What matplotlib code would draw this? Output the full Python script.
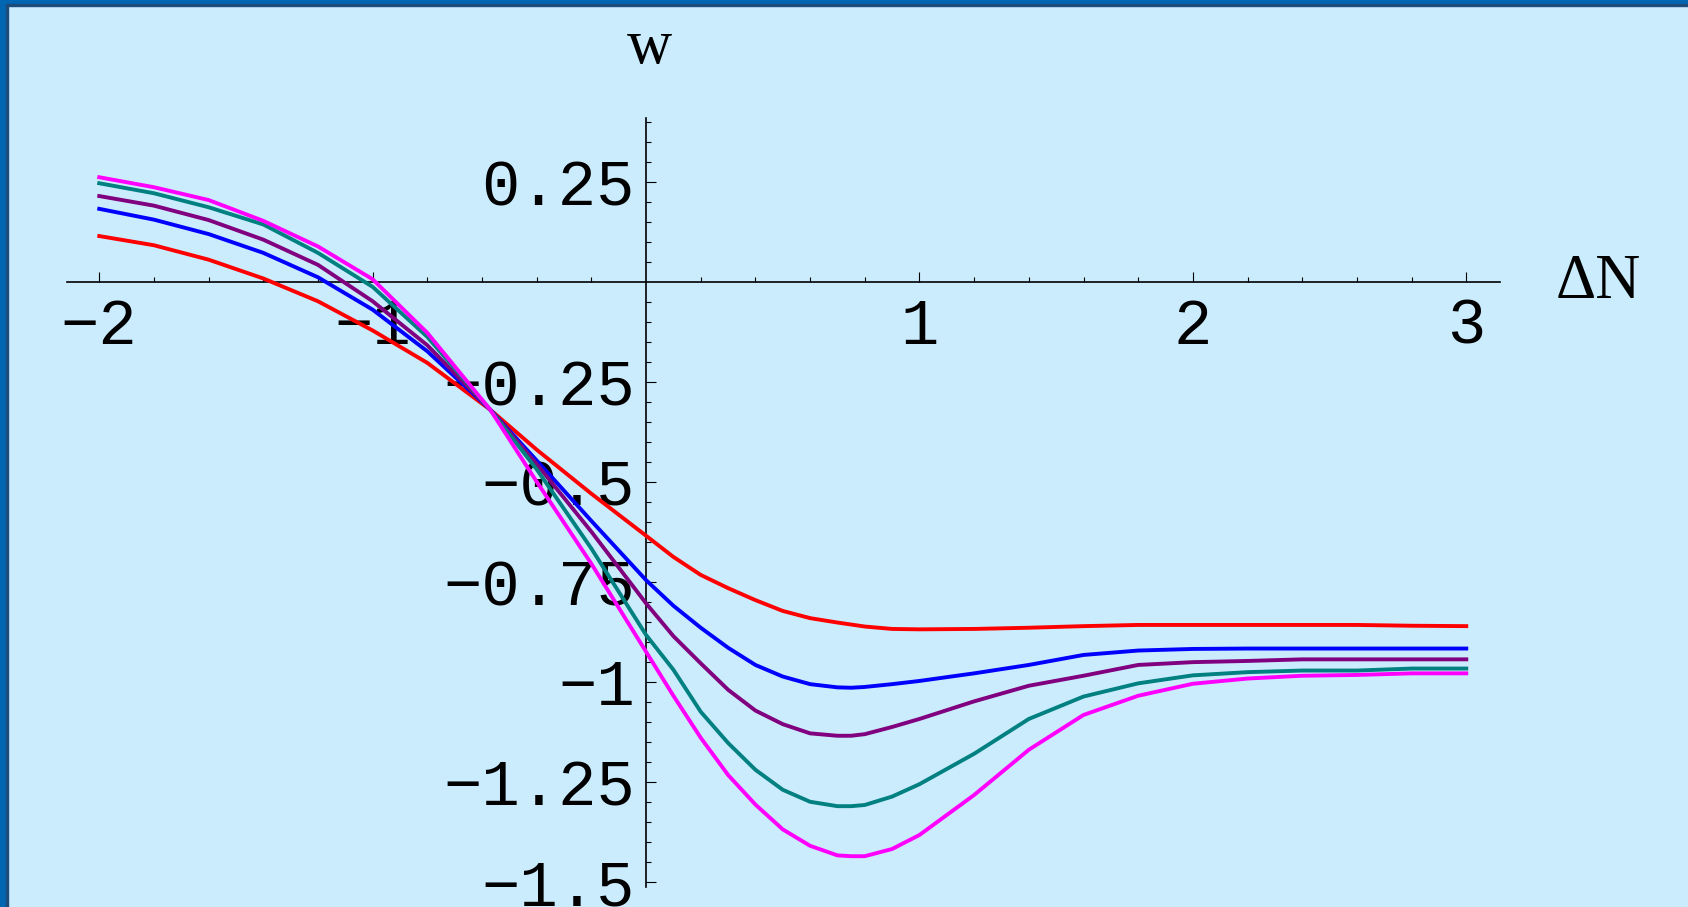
import matplotlib
matplotlib.use("Agg")
import matplotlib.pyplot as plt
from matplotlib.patches import Rectangle
from matplotlib.ticker import FixedLocator
import numpy as np

# curve data: w against delta N
dN = [-2.0, -1.8, -1.6, -1.4, -1.2, -1.0, -0.8, -0.57, -0.4, -0.2, 0.0, 0.1, 0.2,
      0.3, 0.4, 0.5, 0.6, 0.7, 0.75, 0.8, 0.9, 1.0, 1.2, 1.4, 1.6, 1.8, 2.0, 2.2,
      2.4, 2.6, 2.8, 3.0]

w_red = [0.114, 0.091, 0.055, 0.008, -0.049, -0.122, -0.203, -0.32, -0.42, -0.53,
         -0.635, -0.688, -0.733, -0.766, -0.796, -0.823, -0.841, -0.852, -0.857,
         -0.862, -0.868, -0.869, -0.868, -0.865, -0.861, -0.858, -0.858, -0.858,
         -0.858, -0.858, -0.86, -0.861]
w_blue = [0.182, 0.155, 0.119, 0.072, 0.011, -0.07, -0.174, -0.32, -0.447, -0.598,
          -0.746, -0.81, -0.865, -0.915, -0.958, -0.987, -1.006, -1.014, -1.015,
          -1.013, -1.006, -0.998, -0.979, -0.958, -0.933, -0.922, -0.918, -0.917,
          -0.917, -0.917, -0.917, -0.917]
w_purple = [0.214, 0.19, 0.154, 0.105, 0.042, -0.049, -0.159, -0.32, -0.456, -0.625,
            -0.804, -0.886, -0.954, -1.02, -1.072, -1.106, -1.129, -1.135, -1.135,
            -1.131, -1.113, -1.093, -1.049, -1.01, -0.985, -0.958, -0.951, -0.948,
            -0.944, -0.944, -0.944, -0.944]
w_teal = [0.246, 0.221, 0.186, 0.143, 0.072, -0.013, -0.138, -0.32, -0.469, -0.667,
          -0.883, -0.97, -1.075, -1.153, -1.22, -1.27, -1.3, -1.311, -1.311, -1.308,
          -1.287, -1.256, -1.18, -1.093, -1.037, -1.004, -0.984, -0.976, -0.972,
          -0.972, -0.967, -0.967]
w_magenta = [0.261, 0.236, 0.204, 0.152, 0.088, 0.006, -0.128, -0.32, -0.5, -0.705,
             -0.925, -1.035, -1.14, -1.233, -1.307, -1.369, -1.41, -1.434, -1.436,
             -1.436, -1.418, -1.383, -1.283, -1.17, -1.083, -1.035, -1.005, -0.992,
             -0.985, -0.983, -0.979, -0.979]

curves = [(w_red, "#ff0000"), (w_blue, "#0000ff"), (w_purple, "#800080"),
          (w_teal, "#008080"), (w_magenta, "#ff00ff")]

x_ticks = [-2, -1, 1, 2, 3]
x_labels = ["\u22122", "\u22121", "1", "2", "3"]
y_ticks = [-1.5, -1.25, -1, -0.75, -0.5, -0.25, 0.25]
y_labels = ["\u22121.5", "\u22121.25", "\u22121", "\u22120.75", "\u22120.5",
            "\u22120.25", "0.25"]

mono = ["Liberation Mono", "DejaVu Sans Mono"]
serif = ["Liberation Serif", "DejaVu Serif"]
bg = "#cbecfd"
edge = "#0066b2"

fig = plt.figure(figsize=(16.88, 9.07), dpi=100)
fig.patch.set_facecolor(bg)
ax = fig.add_axes([0, 0, 1, 1])
ax.set_facecolor(bg)

for w, c in curves:
    ax.plot(dN, w, color=c, lw=2.8, zorder=3)

ax.set_xlim(-2.363, 3.811)
ax.set_ylim(-1.563, 0.704)

# mathematica style axes crossing at the origin
for s in ["top", "right"]:
    ax.spines[s].set_visible(False)
ax.spines["left"].set_position(("data", 0))
ax.spines["bottom"].set_position(("data", 0))
ax.spines["left"].set_bounds(-1.513, 0.409)
ax.spines["bottom"].set_bounds(-2.118, 3.123)
ax.spines["left"].set_linewidth(1.2)
ax.spines["bottom"].set_linewidth(1.2)

x_minor = [round(v, 2) for v in np.arange(-2, 3.001, 0.2) if abs(v) > 1e-9]
y_minor = [round(v, 3) for v in np.arange(-1.5, 0.401, 0.05) if abs(v) > 1e-9]

ax.xaxis.set_major_locator(FixedLocator(x_ticks))
ax.xaxis.set_minor_locator(FixedLocator(x_minor))
ax.yaxis.set_major_locator(FixedLocator(y_ticks))
ax.yaxis.set_minor_locator(FixedLocator(y_minor))
ax.set_xticklabels(x_labels, family=mono, fontsize=46)
ax.set_yticklabels(y_labels, family=mono, fontsize=46)

ax.tick_params(which="both", direction="in", width=0.8, color="black")
ax.tick_params(which="major", length=7)
ax.tick_params(which="minor", length=3.6)
ax.tick_params(axis="x", which="major", pad=11)
ax.tick_params(axis="y", which="major", pad=8)

ax.text(0.012, 0.547, "w", family=serif, fontsize=45, ha="center", va="baseline")
ax.text(3.482, -0.041, "\u0394N", family=serif, fontsize=45, ha="center",
        va="baseline")

# frame of the slide on the left and top
W, H = 1688, 907
fig.add_artist(Rectangle((0, 0), 6 / W, 1, transform=fig.transFigure,
                         color=edge, zorder=10))
fig.add_artist(Rectangle((6 / W, 0), 1.5 / W, 1, transform=fig.transFigure,
                         color="#1d4c7a", zorder=10))
fig.add_artist(Rectangle((0, 1 - 4 / H), 1, 4 / H, transform=fig.transFigure,
                         color=edge, zorder=10))
fig.add_artist(Rectangle((6 / W, 1 - 5.5 / H), 1, 1.5 / H, transform=fig.transFigure,
                         color="#1d4c7a", zorder=10))

fig.savefig("out.png", dpi=100, facecolor=bg)
